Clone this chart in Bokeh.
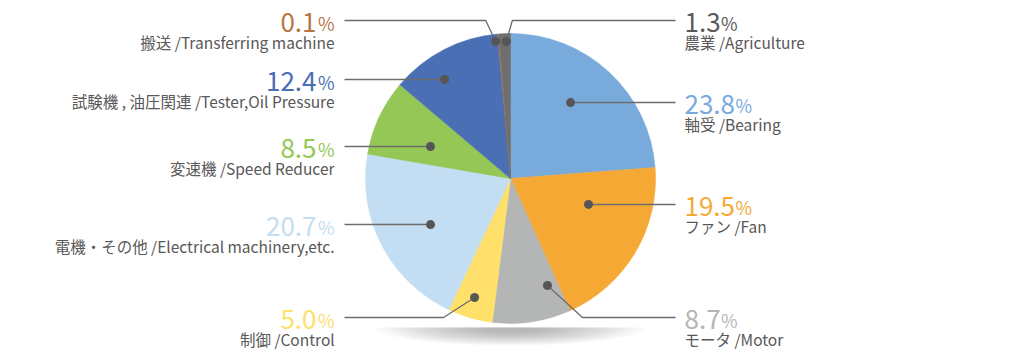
import math
from bokeh.plotting import figure
from bokeh.models import Range1d
from bokeh.core.properties import value
from bokeh.embed import file_html
from bokeh.resources import INLINE

# ---------------- data ----------------
names_ja = ["軸受", "ファン", "モータ", "制御", "電機・その他", "変速機",
            "試験機 , 油圧関連", "搬送", "農業"]
names_en = ["Bearing", "Fan", "Motor", "Control", "Electrical machinery,etc.",
            "Speed Reducer", "Tester,Oil Pressure", "Transferring machine", "Agriculture"]
shares = [23.8, 19.5, 8.7, 5.0, 20.7, 8.5, 12.4, 0.1, 1.3]

# ---------------- styles ----------------
slice_colors = ["#78abdc", "#f5a934", "#b4b5b5", "#fee06b", "#c3ddf2",
                "#94c755", "#4a6fb4", "#c0783c", "#6f6f6f"]
pct_colors = ["#78abdc", "#f5a934", "#b4b5b5", "#fee06b", "#c3ddf2",
              "#94c755", "#4a6fb4", "#b7773f", "#5a5a5a"]
TEXT_COLOR = "#595757"
LEADER_COLOR = "#6d6d6d"
DOT_COLOR = "#565656"
FONT = "Noto Sans CJK JP"

# ---------------- layout (screen pixels) ----------------
W, H = 1020, 359
CX, CY, R = 510, 178, 145
side = [1, 1, 1, -1, -1, -1, -1, -1, 1]          # 1 = right, -1 = left
label_y = [102, 204, 317, 317, 224, 146, 79, 20, 20]
dot_offset_deg = [-4.5, -12.4, -10.6, 0.6, -2.4, -3.2, -6.3, -1.3, 0.6]
dot_radius = [96.8, 82.2, 113.2, 124.3, 92.3, 86.2, 119, 137.8, 137.1]
elbow_dx = [0, 0, 35, 31, 0, 0, 0, 10, 6]
LEFT_TEXT_X, RIGHT_TEXT_X = 334, 684
LEFT_LINE_X, RIGHT_LINE_X = 344, 675


def Y(ys):
    return H - ys


p = figure(width=W, height=H, x_range=Range1d(0, W), y_range=Range1d(0, H),
           output_backend="svg", toolbar_location=None, min_border=0,
           x_axis_location=None, y_axis_location=None, outline_line_color=None,
           background_fill_color="white", border_fill_color="white")
p.grid.visible = False

# ---------------- shadow under the pie ----------------
sh_xs, sh_ys = [], []
for i in range(14):
    hw = 134 - 8.0 * i
    depth = 18 - 1.0 * i
    top = 327
    xs, ys = [], []
    for k in range(41):
        t = math.pi * k / 40
        xs.append(CX + hw * math.cos(t))
        ys.append(Y(top + depth * math.sin(t)))
    sh_xs.append(xs)
    sh_ys.append(ys)
p.patches(sh_xs, sh_ys, fill_color="#707070", fill_alpha=0.04, line_color=None)

# ---------------- pie ----------------
total = sum(shares)
c0, starts, ends, mids = 0.0, [], [], []
for v in shares:
    c1 = c0 + v / total
    starts.append(math.pi / 2 - 2 * math.pi * c0)
    ends.append(math.pi / 2 - 2 * math.pi * c1)
    mids.append(360 * (c0 + c1) / 2)
    c0 = c1

p.wedge(x=[CX] * len(shares), y=[Y(CY)] * len(shares), radius=R, radius_units="screen",
        start_angle=starts, end_angle=ends, direction="clock",
        fill_color=slice_colors, line_color=slice_colors, line_width=0.6)

# ---------------- leaders ----------------
dots_x, dots_y, lxs, lys = [], [], [], []
for i in range(len(shares)):
    a = math.radians(mids[i] + dot_offset_deg[i])
    dx = CX + dot_radius[i] * math.sin(a)
    dy = CY - dot_radius[i] * math.cos(a)
    dots_x.append(dx)
    dots_y.append(Y(dy))
    ex = dx + side[i] * elbow_dx[i]
    sx = RIGHT_LINE_X if side[i] > 0 else LEFT_LINE_X
    lxs.append([sx, ex, dx])
    lys.append([Y(label_y[i]), Y(label_y[i]), Y(dy)])

p.multi_line(lxs, lys, line_color=LEADER_COLOR, line_width=1.3)
p.scatter(dots_x, dots_y, size=9, fill_color=DOT_COLOR, line_color=None)

# ---------------- labels ----------------
DIGIT_W, DOT_W = 14.5, 6.5


def num_width(s):
    return sum(DOT_W if ch == "." else DIGIT_W for ch in s)


for i in range(len(shares)):
    num = f"{shares[i]:.1f}"
    base = Y(label_y[i] + 2)
    desc = f"{names_ja[i]} /{names_en[i]}"
    if side[i] > 0:
        nx, px, align = RIGHT_TEXT_X, RIGHT_TEXT_X + num_width(num) + 1, "left"
        dxp = RIGHT_TEXT_X
        palign = "left"
    else:
        nx, px, align = LEFT_TEXT_X - 18, LEFT_TEXT_X, "right"
        dxp = LEFT_TEXT_X
        palign = "right"
    p.text(x=[nx], y=[base], text=[num], text_align=align, text_baseline="alphabetic",
           text_font=value(FONT), text_font_size=value("26px"), text_color=pct_colors[i])
    p.text(x=[px], y=[base], text=["%"], text_align=palign, text_baseline="alphabetic",
           text_font=value(FONT), text_font_size=value("18px"), text_color=pct_colors[i])
    p.text(x=[dxp], y=[Y(label_y[i] + 21)], text=[desc], text_align=align,
           text_baseline="middle", text_font=value(FONT), text_font_size=value("15.5px"),
           text_color=TEXT_COLOR)

open("out.html", "w").write(file_html(p, INLINE))
